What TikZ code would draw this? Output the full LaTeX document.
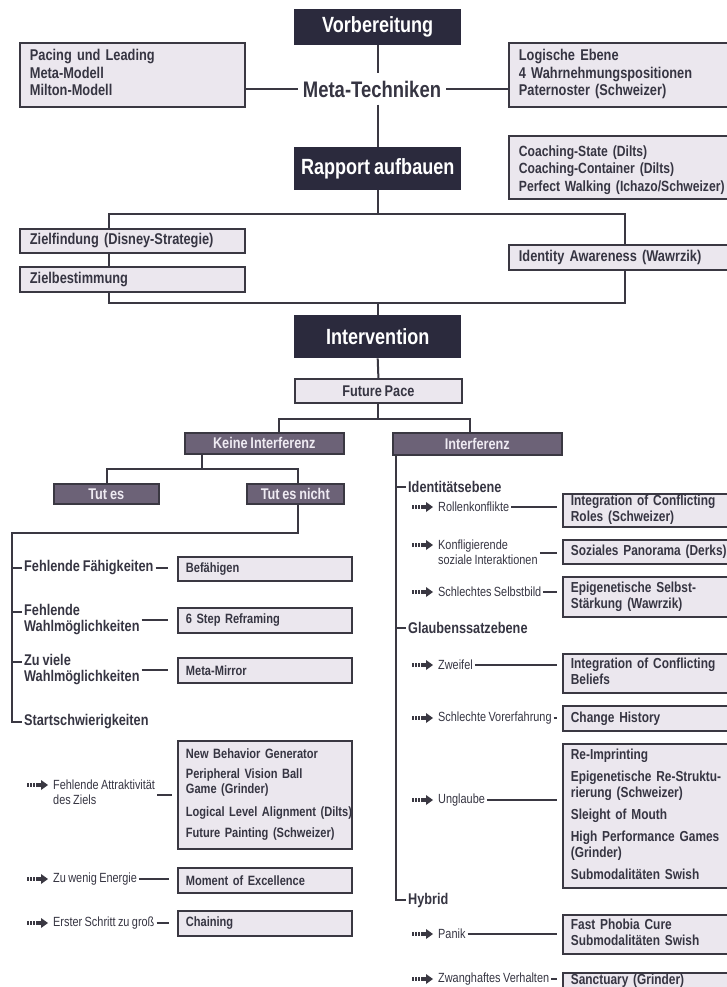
\documentclass[tikz,border=0pt]{standalone}
\usepackage{fontspec}
\setmainfont{Liberation Sans}[FakeStretch=0.82, WordSpace=0.8]
\usetikzlibrary{backgrounds}
\definecolor{darkbox}{HTML}{2B2A3D}
\definecolor{midbox}{HTML}{6C6277}
\definecolor{midtxt}{HTML}{EEEAF2}
\definecolor{lightbox}{HTML}{EBE7EE}
\definecolor{linec}{HTML}{3A3842}
\definecolor{txtc}{HTML}{363542}
\newcommand{\fsz}[2]{\fontsize{#1}{#2}\selectfont}
\newcommand{\ml}[1]{\begin{tabular}{@{}l@{}}#1\end{tabular}}
\tikzset{
 conn/.style={draw=linec, line width=2pt},
 darknode/.style={fill=darkbox, text=white, font=\bfseries\fsz{22}{24}, minimum width=167, anchor=north west, inner sep=0pt},
 boxbase/.style={draw=linec, fill=lightbox, line width=1.8pt, text=txtc, anchor=north west, inner ysep=0pt},
 topbox/.style={boxbase, font=\bfseries\fsz{15.6}{17.5}, align=left, inner xsep=10pt},
 lbox/.style={boxbase, font=\bfseries\fsz{13.5}{15}, align=left, inner xsep=8pt, minimum width=174, text width=158},
 rbox/.style={boxbase, font=\bfseries\fsz{14.5}{16}, align=left, inner xsep=8pt, minimum width=200, text width=184},
 midnode/.style={draw=linec, fill=midbox, line width=1.5pt, text=midtxt, font=\bfseries\fsz{15.5}{17}, anchor=north west, inner sep=0pt},
 blab/.style={text=txtc, font=\bfseries\fsz{15.5}{16}, align=left, anchor=west, inner xsep=2pt, inner ysep=1pt},
 slab/.style={text=txtc, font=\fsz{13.3}{15}, align=left, anchor=west, inner xsep=2pt, inner ysep=1pt},
 fatarrow/.pic={
   \fill[linec] (0,-2.2) rectangle (1.8,2.2);
   \fill[linec] (3,-2.2) rectangle (4.8,2.2);
   \fill[linec] (6,-2.2) rectangle (7.8,2.2);
   \fill[linec] (9,-2.2) rectangle (14.5,2.2);
   \fill[linec] (14,-5) -- (21,0) -- (14,5) -- cycle;}
}
\begin{document}
\begin{tikzpicture}[x=1pt,y=-1pt]
\useasboundingbox (0,0) rectangle (726,987);

% ---------- top ----------
\node[darknode, minimum height=36] (vorb) at (294,9) {Vorbereitung};
\node[topbox, minimum width=225, text width=205, minimum height=64] (pace) at (19,42)
  {\ml{Pacing und Leading\\Meta-Modell\\Milton-Modell}};
\node[font=\bfseries\fsz{22.5}{24}, text=txtc, inner xsep=5pt, inner ysep=2pt, minimum height=31] (meta) at (372,89) {Meta-Techniken};
\node[topbox, minimum width=254, text width=234, minimum height=64] (logic) at (508,42)
  {\ml{Logische Ebene\\4 Wahrnehmungspositionen\\Paternoster (Schweizer)}};
\node[darknode, minimum height=43] (rapport) at (294,147) {Rapport aufbauen};
\node[topbox, font=\bfseries\fsz{14.8}{17.5}, minimum width=254, text width=234, minimum height=63] (coach) at (508,135)
  {\raisebox{-3pt}[\height][\depth]{\ml{Coaching-State (Dilts)\\Coaching-Container (Dilts)\\Perfect Walking (Ichazo/Schweizer)}}};

\coordinate (ftl) at (109,214);
\coordinate (fbr) at (625,303);
\node[topbox, minimum width=225, text width=205, minimum height=24] (zf) at (19,228) {Zielfindung (Disney-Strategie)};
\node[topbox, minimum width=225, text width=205, minimum height=25] (zb) at (19,266) {Zielbestimmung};
\node[topbox, minimum width=254, text width=234, minimum height=25] (idaw) at (508,244) {Identity Awareness (Wawrzik)};

\node[darknode, minimum height=43] (interv) at (294,315) {Intervention};
\node[boxbase, font=\bfseries\fsz{15.5}{17}, minimum width=167, minimum height=24, inner xsep=0pt] (fp) at (294,378) {Future Pace};

% ---------- middle ----------
\node[midnode, minimum width=159, minimum height=21] (keine) at (184,432) {Keine Interferenz};
\node[midnode, minimum width=169, minimum height=22] (interf) at (392,432) {Interferenz};
\node[midnode, minimum width=105, minimum height=20] (tutes) at (53,483) {Tut es};
\node[midnode, minimum width=97, minimum height=20] (tutnicht) at (246,483) {Tut es nicht};

% ---------- left column ----------
\coordinate (tnb) at (298,503);
\coordinate (sp) at (12,533);
\node[blab] (ff) at (22,568) {Fehlende Fähigkeiten};
\node[lbox, minimum height=24] (bef) at (177,556) {Befähigen};
\node[blab] (fw) at (22,619.5) {Fehlende\\Wahlmöglichkeiten};
\node[lbox, minimum height=25] (step) at (177,607) {6 Step Reframing};
\node[blab] (zv) at (22,669.5) {Zu viele\\Wahlmöglichkeiten};
\node[lbox, minimum height=25] (mm) at (177,657) {Meta-Mirror};
\node[blab] (start) at (22,722) {Startschwierigkeiten};

\pic at (27,785) {fatarrow};
\node[slab] (fa) at (51,792.5) {Fehlende Attraktivität\\des Ziels};
\node[lbox, minimum height=108] (attr) at (177,740)
  {\ml{New Behavior Generator\\[5pt]Peripheral Vision Ball\\Game (Grinder)\\[8pt]Logical Level Alignment (Dilts)\\[6pt]Future Painting (Schweizer)}};
\pic at (27,879) {fatarrow};
\node[slab] (zw) at (51,879) {Zu wenig Energie};
\node[lbox, minimum height=25] (mom) at (177,867) {Moment of Excellence};
\pic at (27,923) {fatarrow};
\node[slab] (es) at (51,923) {Erster Schritt zu groß};
\node[lbox, minimum height=25] (chain) at (177,910) {Chaining};

% ---------- right column ----------
\coordinate (rsp) at (396,454);
\node[blab] (ide) at (406,487) {Identitätsebene};
\pic at (412,507) {fatarrow};
\node[slab] (rk) at (436,507) {Rollenkonflikte};
\node[rbox, minimum height=33] (r1) at (562,493) {\ml{Integration of Conflicting\\Roles (Schweizer)}};
\pic at (412,545) {fatarrow};
\node[slab] (ks) at (436,552.5) {Konfligierende\\soziale Interaktionen};
\node[rbox, minimum height=24] (r2) at (562,539) {Soziales Panorama (Derks)};
\pic at (412,592) {fatarrow};
\node[slab] (ss) at (436,592) {Schlechtes Selbstbild};
\node[rbox, minimum height=40] (r3) at (562,576) {\ml{Epigenetische Selbst-\\Stärkung (Wawrzik)}};
\node[blab] (gl) at (406,628) {Glaubenssatzebene};
\pic at (412,665) {fatarrow};
\node[slab] (zf2) at (436,665) {Zweifel};
\node[rbox, minimum height=39] (r4) at (562,653) {\ml{Integration of Conflicting\\Beliefs}};
\pic at (412,718) {fatarrow};
\node[slab] (sv) at (436,718) {Schlechte Vorerfahrung};
\node[rbox, minimum height=25] (r5) at (562,705) {Change History};
\pic at (412,800) {fatarrow};
\node[slab] (ug) at (436,800) {Unglaube};
\node[rbox, minimum height=144] (r6) at (562,743)
  {\ml{Re-Imprinting\\[6pt]Epigenetische Re-Struktu-\\rierung (Schweizer)\\[6pt]Sleight of Mouth\\[6pt]High Performance Games\\(Grinder)\\[6pt]Submodalitäten Swish}};
\node[blab] (hyb) at (406,900) {Hybrid};
\pic at (412,934) {fatarrow};
\node[slab] (pa) at (436,934) {Panik};
\node[rbox, minimum height=39] (r7) at (562,914) {\ml{Fast Phobia Cure\\Submodalitäten Swish}};
\pic at (412,979) {fatarrow};
\node[slab] (zh) at (436,979) {Zwanghaftes Verhalten};
\node[rbox, minimum height=16] (r8) at (562,972) {Sanctuary (Grinder)};

\coordinate (fwt) at ([yshift=8pt]fw.west);
\coordinate (zvt) at ([yshift=8pt]zv.west);

% ---------- connectors ----------
\begin{scope}[on background layer]
\fill[white] (0,0) rectangle (726,987);
\draw[conn] (vorb.south) -- (vorb.south |- meta.north);
\draw[conn] (rapport.north |- meta.south) -- (rapport.north);
\draw[conn] (meta.west) -- (meta.west -| pace.east);
\draw[conn] (meta.east) -- (meta.east -| logic.west);
\draw[conn] (rapport.south) -- (rapport.south |- ftl);
\draw[conn] (ftl) rectangle (fbr);
\draw[conn] (fbr -| interv.north) -- (interv.north);
\draw[conn] (interv.south) -- (fp.north);
\draw[conn] (fp.south) -- (fp.south |- 0,419);
\draw[conn] (keine.north -| 279,0) -- (279,419) -- (470,419) -- (interf.north -| 470,0);
\draw[conn] (keine.south -| 202,0) -- (202,469);
\draw[conn] (tutes.north -| 107,0) |- (298,469) -- (tutnicht.north -| 298,0);
% left spine
\draw[conn] (tnb) |- (sp) |- (start.west);
\draw[conn] (ff.west -| sp) -- (ff.west);
\draw[conn] (fwt -| sp) -- (fwt);
\draw[conn] (zvt -| sp) -- (zvt);
\draw[conn, shorten >=9pt] (ff.east) -- (ff.east -| bef.west);
\draw[conn, shorten >=9pt] (fw.east) -- (fw.east -| step.west);
\draw[conn, shorten >=9pt] (zv.east) -- (zv.east -| mm.west);
\draw[conn, shorten >=5pt] (fa.east |- attr.west) -- (attr.west);
\draw[conn, shorten >=8pt] (zw.east) -- (zw.east -| mom.west);
\draw[conn, shorten >=8pt] (es.east) -- (es.east -| chain.west);
% right spine
\draw[conn] (rsp) |- (hyb.west);
\draw[conn] (ide.west -| rsp) -- (ide.west);
\draw[conn] (gl.west -| rsp) -- (gl.west);
\draw[conn, shorten >=5pt] (rk.east) -- (rk.east -| r1.west);
\draw[conn, shorten >=5pt] (ks.east) -- (ks.east -| r2.west);
\draw[conn, shorten >=5pt] (ss.east) -- (ss.east -| r3.west);
\draw[conn, shorten >=5pt] (zf2.east) -- (zf2.east -| r4.west);
\draw[conn, shorten >=5pt] (sv.east) -- (sv.east -| r5.west);
\draw[conn, shorten >=5pt] (ug.east) -- (ug.east -| r6.west);
\draw[conn, shorten >=5pt] (pa.east) -- (pa.east -| r7.west);
\draw[conn, shorten >=5pt] (zh.east) -- (zh.east -| r8.west);
\end{scope}
\end{tikzpicture}
\end{document}
